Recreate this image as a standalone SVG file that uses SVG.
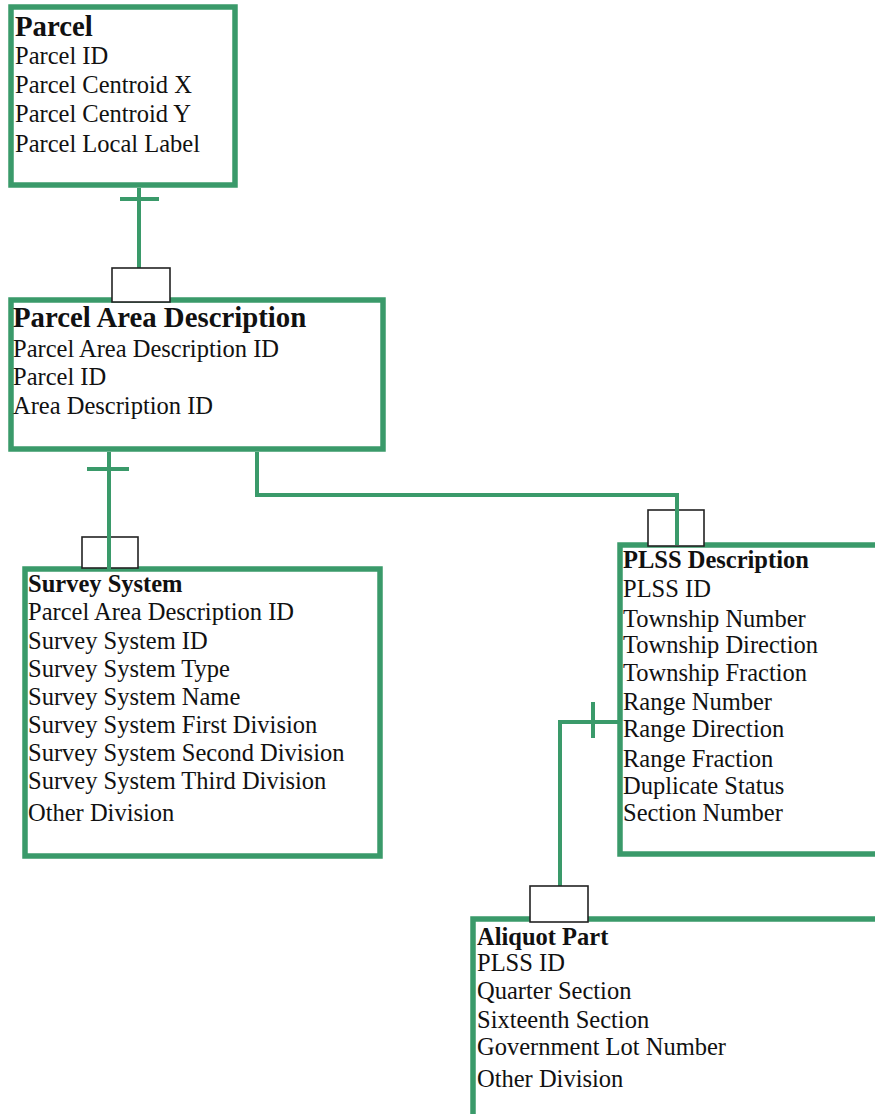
<svg xmlns="http://www.w3.org/2000/svg" width="875" height="1114" viewBox="0 0 875 1114">
<style>
.box{fill:#fff;stroke:#3A9A6A;stroke-width:5.5}
.ln{fill:none;stroke:#3A9A6A;stroke-width:4}
.cap{fill:#fff;stroke:#222;stroke-width:1.6}
text{font-family:'Liberation Serif','Times New Roman',serif;font-size:24.5px;fill:#111}
.t1{font-weight:bold;font-size:28.8px}
.t2{font-weight:bold;font-size:24.5px}
</style>
<rect width="875" height="1114" fill="#fff"/>
<g id="parcel">
<rect class="box" x="11" y="7" width="224" height="178"/>
<text class="t1" x="15" y="36">Parcel</text>
<text x="15" y="64">Parcel ID</text>
<text x="15" y="93">Parcel Centroid X</text>
<text x="15" y="122">Parcel Centroid Y</text>
<text x="15" y="152">Parcel Local Label</text>
</g>
<g id="parcel-area-description">
<rect class="box" x="11" y="300" width="372" height="149"/>
<text class="t1" x="13" y="327">Parcel Area Description</text>
<text x="13" y="357">Parcel Area Description ID</text>
<text x="13" y="385">Parcel ID</text>
<text x="13" y="414">Area Description ID</text>
</g>
<g id="survey-system">
<rect class="box" x="25" y="569" width="355" height="287"/>
<text class="t2" x="28" y="592">Survey System</text>
<text x="28" y="620">Parcel Area Description ID</text>
<text x="28" y="649">Survey System ID</text>
<text x="28" y="677">Survey System Type</text>
<text x="28" y="705">Survey System Name</text>
<text x="28" y="733">Survey System First Division</text>
<text x="28" y="761">Survey System Second Division</text>
<text x="28" y="789">Survey System Third Division</text>
<text x="28" y="821">Other Division</text>
</g>
<g id="plss-description">
<rect class="box" x="620" y="545" width="300" height="309"/>
<text class="t2" x="623" y="568">PLSS Description</text>
<text x="623" y="597">PLSS ID</text>
<text x="623" y="627">Township Number</text>
<text x="623" y="653">Township Direction</text>
<text x="623" y="681">Township Fraction</text>
<text x="623" y="710">Range Number</text>
<text x="623" y="737">Range Direction</text>
<text x="623" y="767">Range Fraction</text>
<text x="623" y="794">Duplicate Status</text>
<text x="623" y="821">Section Number</text>
</g>
<g id="aliquot-part">
<rect class="box" x="473" y="919" width="450" height="250"/>
<text class="t2" x="477" y="945">Aliquot Part</text>
<text x="477" y="971">PLSS ID</text>
<text x="477" y="999">Quarter Section</text>
<text x="477" y="1028">Sixteenth Section</text>
<text x="477" y="1055">Government Lot Number</text>
<text x="477" y="1087">Other Division</text>
</g>
<g id="connectors">
<path class="ln" d="M139 188V268M120 199H159"/>
<rect class="cap" x="112" y="268" width="58" height="34"/>
<rect class="cap" x="82" y="537" width="56" height="31"/>
<path class="ln" d="M109 452V569M87 469H129"/>
<rect class="cap" x="648" y="510" width="56" height="36"/>
<path class="ln" d="M257 452V495H677V545"/>
<path class="ln" d="M620 722H560V886M593 702V738"/>
<rect class="cap" x="530" y="886" width="58" height="36"/>
</g>
</svg>
